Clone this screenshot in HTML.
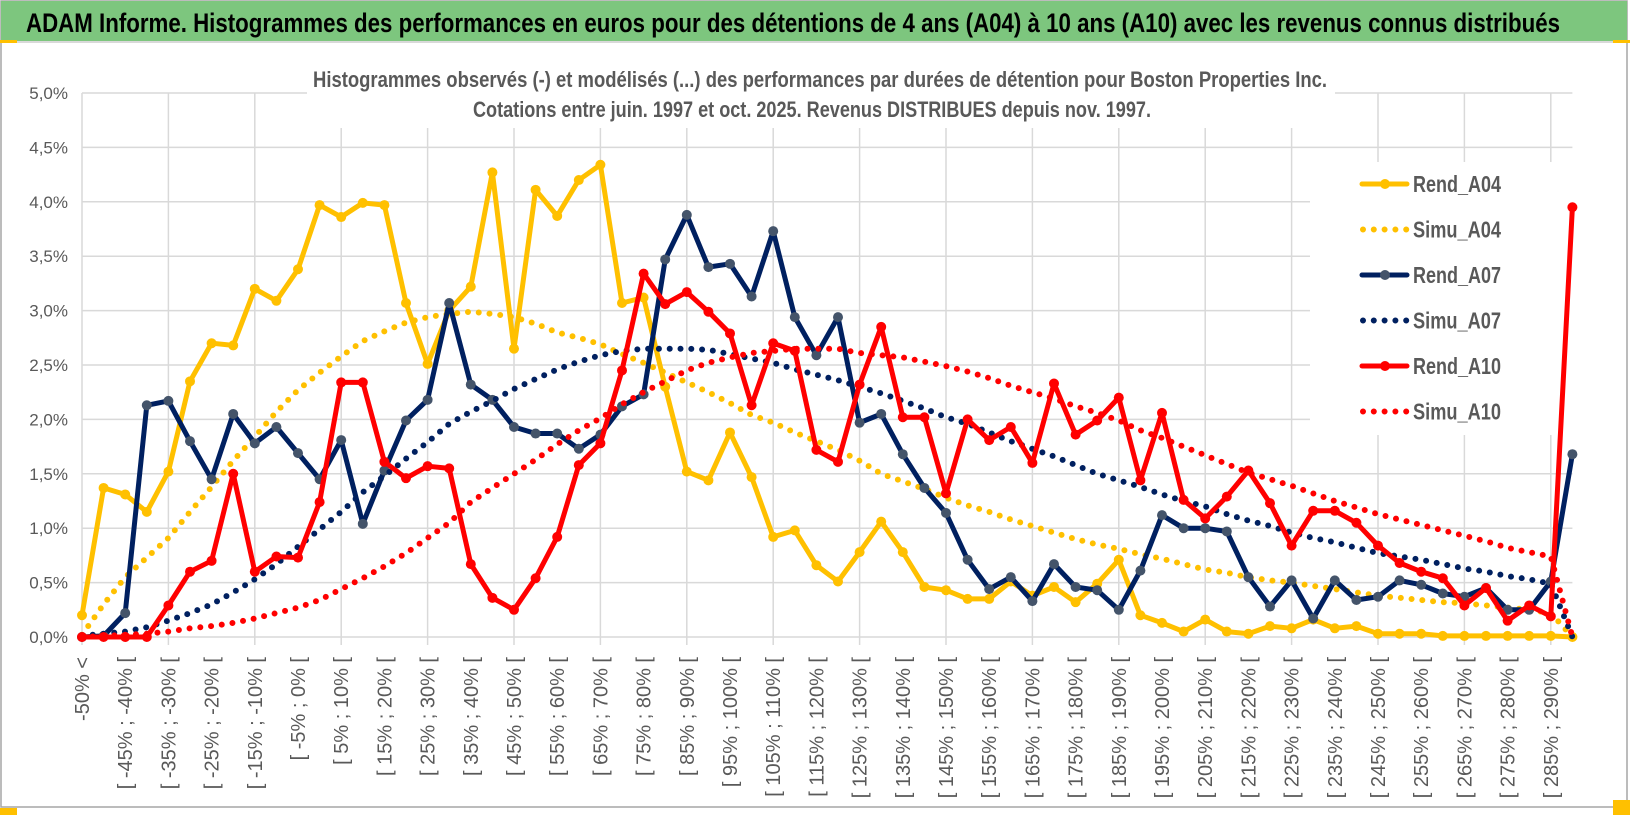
<!DOCTYPE html>
<html><head><meta charset="utf-8">
<style>
html,body{margin:0;padding:0;background:#fff;}
svg{display:block;font-family:"Liberation Sans Narrow","Liberation Sans",sans-serif;}
</style></head>
<body>
<svg id="chart" width="1630" height="815" viewBox="0 0 1630 815" xmlns="http://www.w3.org/2000/svg">
  <rect x="0" y="0" width="1630" height="815" fill="#fff"/>
  <rect x="1" y="1" width="1626" height="806" fill="#fff" stroke="#a6a6a6" stroke-width="1.5"/>
  <rect x="1" y="1" width="1626" height="40" fill="#7dc67e"/>
  <line x1="1" y1="42" x2="1627" y2="42" stroke="#d9d9d9" stroke-width="2"/>
  <rect x="0" y="40" width="17" height="3" fill="#ffc000"/>
  <rect x="1613" y="40" width="17" height="3" fill="#ffc000"/>
  <rect x="0" y="808" width="17" height="7" fill="#ffc000"/>
  <rect x="1613" y="800" width="17" height="15" fill="#ffc000"/>
  <text x="26" y="32" font-size="27" font-weight="bold" fill="#000" textLength="1534" lengthAdjust="spacingAndGlyphs">ADAM Informe. Histogrammes des performances en euros pour des détentions de 4 ans (A04) à 10 ans (A10) avec les revenus connus distribués</text>
  <g id="grid"></g>
  <g id="yaxis"></g>
  <g id="xaxis"></g>
  <rect x="307" y="50" width="1028" height="78" fill="#fff"/>
  <text x="313" y="87" font-size="22" font-weight="bold" fill="#595959" textLength="1014" lengthAdjust="spacingAndGlyphs">Histogrammes observés (-) et modélisés (...) des performances par durées de détention pour Boston Properties Inc.</text>
  <text x="473" y="117" font-size="22" font-weight="bold" fill="#595959" textLength="678" lengthAdjust="spacingAndGlyphs">Cotations entre juin. 1997 et oct. 2025.  Revenus DISTRIBUES depuis nov. 1997.</text>
  <rect x="1310" y="162" width="290" height="273" fill="#fff"/>
  <g id="series"></g>
  <g id="legend"></g>
</svg>
<script>
const categories = ["-50% <","[ -50% ; -45% [","[ -45% ; -40% [","[ -40% ; -35% [","[ -35% ; -30% [","[ -30% ; -25% [","[ -25% ; -20% [","[ -20% ; -15% [","[ -15% ; -10% [","[ -10% ; -5% [",
"[ -5% ; 0% [","[ 0% ; 5% [","[ 5% ; 10% [","[ 10% ; 15% [","[ 15% ; 20% [","[ 20% ; 25% [","[ 25% ; 30% [","[ 30% ; 35% [","[ 35% ; 40% [","[ 40% ; 45% [",
"[ 45% ; 50% [","[ 50% ; 55% [","[ 55% ; 60% [","[ 60% ; 65% [","[ 65% ; 70% [","[ 70% ; 75% [","[ 75% ; 80% [","[ 80% ; 85% [","[ 85% ; 90% [","[ 90% ; 95% [",
"[ 95% ; 100% [","[ 100% ; 105% [","[ 105% ; 110% [","[ 110% ; 115% [","[ 115% ; 120% [","[ 120% ; 125% [","[ 125% ; 130% [","[ 130% ; 135% [","[ 135% ; 140% [","[ 140% ; 145% [",
"[ 145% ; 150% [","[ 150% ; 155% [","[ 155% ; 160% [","[ 160% ; 165% [","[ 165% ; 170% [","[ 170% ; 175% [","[ 175% ; 180% [","[ 180% ; 185% [","[ 185% ; 190% [","[ 190% ; 195% [",
"[ 195% ; 200% [","[ 200% ; 205% [","[ 205% ; 210% [","[ 210% ; 215% [","[ 215% ; 220% [","[ 220% ; 225% [","[ 225% ; 230% [","[ 230% ; 235% [","[ 235% ; 240% [","[ 240% ; 245% [",
"[ 245% ; 250% [","[ 250% ; 255% [","[ 255% ; 260% [","[ 260% ; 265% [","[ 265% ; 270% [","[ 270% ; 275% [","[ 275% ; 280% [","[ 280% ; 285% [","[ 285% ; 290% [","> 290%"];
const yTicks = [0,0.5,1,1.5,2,2.5,3,3.5,4,4.5,5];
const yTickLabels = ["0,0%","0,5%","1,0%","1,5%","2,0%","2,5%","3,0%","3,5%","4,0%","4,5%","5,0%"];
const rendA04 = [0.2,1.37,1.31,1.15,1.52,2.35,2.7,2.68,3.2,3.09,3.38,3.97,3.86,3.99,3.97,3.07,2.51,3.0,3.22,4.27,2.65,4.11,3.87,4.2,4.34,3.07,3.12,2.3,1.52,1.44,1.88,1.47,0.92,0.98,0.66,0.51,0.78,1.06,0.78,0.46,0.43,0.35,0.35,0.51,0.38,0.46,0.32,0.49,0.71,0.2,0.13,0.05,0.16,0.05,0.03,0.1,0.08,0.16,0.08,0.1,0.03,0.03,0.03,0.01,0.01,0.01,0.01,0.01,0.01,0.0];
const simuA04 = [0.02,0.3,0.55,0.73,0.91,1.15,1.38,1.62,1.84,2.07,2.27,2.43,2.58,2.72,2.81,2.89,2.94,2.97,2.99,2.97,2.94,2.88,2.8,2.75,2.69,2.6,2.52,2.43,2.34,2.25,2.15,2.04,1.97,1.88,1.8,1.72,1.62,1.5,1.43,1.36,1.28,1.21,1.15,1.08,1.02,0.96,0.9,0.85,0.81,0.76,0.72,0.67,0.62,0.59,0.55,0.52,0.5,0.47,0.44,0.41,0.38,0.36,0.34,0.32,0.31,0.29,0.27,0.25,0.22,0.0];
const rendA07 = [0,0.01,0.22,2.13,2.17,1.8,1.45,2.05,1.78,1.93,1.69,1.45,1.81,1.04,1.53,1.99,2.18,3.07,2.32,2.18,1.93,1.87,1.87,1.73,1.86,2.12,2.23,3.47,3.88,3.4,3.43,3.13,3.73,2.94,2.59,2.94,1.97,2.05,1.68,1.37,1.14,0.71,0.44,0.55,0.33,0.67,0.46,0.43,0.25,0.61,1.12,1.0,1.0,0.97,0.55,0.28,0.52,0.17,0.52,0.34,0.37,0.52,0.48,0.4,0.37,0.45,0.25,0.25,0.51,1.68];
const simuA07 = [0.01,0.03,0.05,0.09,0.15,0.22,0.3,0.41,0.53,0.67,0.83,0.99,1.15,1.33,1.48,1.64,1.79,1.96,2.07,2.17,2.28,2.37,2.46,2.53,2.59,2.63,2.65,2.65,2.65,2.64,2.6,2.56,2.52,2.46,2.41,2.36,2.3,2.24,2.17,2.1,2.02,1.96,1.88,1.8,1.73,1.66,1.58,1.5,1.44,1.38,1.31,1.25,1.2,1.13,1.07,1.02,0.96,0.91,0.87,0.82,0.77,0.74,0.71,0.67,0.63,0.6,0.56,0.53,0.49,0.0];
const rendA10 = [0,0,0,0,0.29,0.6,0.7,1.5,0.6,0.74,0.73,1.24,2.34,2.34,1.61,1.46,1.57,1.55,0.67,0.36,0.25,0.54,0.92,1.58,1.78,2.45,3.34,3.06,3.17,2.99,2.79,2.13,2.7,2.63,1.72,1.61,2.32,2.85,2.02,2.02,1.32,2.0,1.81,1.93,1.6,2.33,1.86,1.99,2.2,1.44,2.06,1.26,1.09,1.29,1.53,1.23,0.84,1.16,1.16,1.05,0.84,0.68,0.6,0.54,0.29,0.45,0.15,0.29,0.19,3.95];
const simuA10 = [0,0.01,0.02,0.03,0.05,0.08,0.1,0.13,0.17,0.22,0.27,0.34,0.44,0.54,0.65,0.77,0.91,1.05,1.24,1.37,1.5,1.63,1.77,1.9,2.01,2.14,2.25,2.35,2.45,2.52,2.57,2.61,2.63,2.65,2.65,2.65,2.61,2.59,2.57,2.53,2.49,2.44,2.38,2.31,2.25,2.19,2.12,2.06,1.99,1.9,1.83,1.75,1.67,1.59,1.51,1.45,1.39,1.32,1.25,1.19,1.13,1.08,1.03,0.98,0.93,0.88,0.82,0.78,0.74,0.0];

const NS = "http://www.w3.org/2000/svg";
const X0 = 82, XSTEP = 21.6, Y0 = 637, YPX = 108.8;
function xScale(i){ return X0 + i * XSTEP; }
function yScale(v){ return Y0 - v * YPX; }
function mk(tag, attrs, parent){ const e = document.createElementNS(NS, tag); for (const k in attrs) e.setAttribute(k, attrs[k]); parent.appendChild(e); return e; }

const grid = document.getElementById('grid');
const yaxis = document.getElementById('yaxis');
const xaxis = document.getElementById('xaxis');
const xEnd = xScale(categories.length - 1);
yTicks.forEach((t, k) => {
  const ln = mk('line', {x1: X0, x2: xEnd, y1: yScale(t), y2: yScale(t), stroke: '#d9d9d9', 'stroke-width': 1.5}, grid);
  
  
  const tx = mk('text', {x: 68, y: yScale(t) + 6, 'text-anchor': 'end', 'font-size': 17, fill: '#595959', 'font-family': '"Liberation Sans", sans-serif'}, yaxis);
  tx.textContent = yTickLabels[k];
  
  
});
for (let i = 0; i < categories.length; i += 4) {
  const ln = mk('line', {x1: xScale(i), x2: xScale(i), y1: yScale(5), y2: Y0 + 8, stroke: '#d9d9d9', 'stroke-width': 1.5}, grid);
  
  
}
for (let i = 0; i < categories.length - 1; i += 2) {
  const x = xScale(i) + 7;
  const tx = mk('text', {x: x, y: 657, transform: 'rotate(-90 ' + x + ' 657)', 'text-anchor': 'end', 'font-size': 20, fill: '#595959', 'font-family': '"Liberation Sans", sans-serif'}, xaxis);
  tx.textContent = categories[i];
  
  
}

const seriesG = document.getElementById('series');
function pathFor(vals){ return vals.map((v, i) => (i ? 'L' : 'M') + xScale(i).toFixed(1) + ' ' + yScale(v).toFixed(1)).join(' '); }
function drawSolid(vals, color, marker, name){
  const g = mk('g', {}, seriesG);
  
  
  mk('path', {d: pathFor(vals), fill: 'none', stroke: color, 'stroke-width': 5, 'stroke-linejoin': 'round'}, g);
  vals.forEach((v, i) => {
    const c = mk('circle', {cx: xScale(i), cy: yScale(v), r: 5, fill: marker}, g);
    
    
  });
}
function drawDotted(vals, color, name){
  const p = mk('path', {d: pathFor(vals), fill: 'none', stroke: color, 'stroke-width': 6, 'stroke-linecap': 'round', 'stroke-dasharray': '0 10.8'}, seriesG);
  
  
}
drawSolid(rendA04, '#ffc000', '#ffc000', 'rend-a04-line');
drawDotted(simuA04, '#ffc000', 'simu-a04-line');
drawSolid(rendA07, '#002060', '#44546a', 'rend-a07-line');
drawDotted(simuA07, '#002060', 'simu-a07-line');
drawSolid(rendA10, '#ff0000', '#ff0000', 'rend-a10-line');
drawDotted(simuA10, '#ff0000', 'simu-a10-line');

const legend = document.getElementById('legend');
const legendItems = [['Rend_A04', '#ffc000', 'solid'], ['Simu_A04', '#ffc000', 'dot'], ['Rend_A07', '#002060', 'solid'], ['Simu_A07', '#002060', 'dot'], ['Rend_A10', '#ff0000', 'solid'], ['Simu_A10', '#ff0000', 'dot']];
legendItems.forEach((it, k) => {
  const y = 184 + k * 45.5;
  const g = mk('g', {}, legend);
  
  
  if (it[2] === 'solid') {
    mk('line', {x1: 1362, x2: 1407, y1: y, y2: y, stroke: it[1], 'stroke-width': 5, 'stroke-linecap': 'round'}, g);
    mk('circle', {cx: 1385, cy: y, r: 5, fill: it[0] === 'Rend_A07' ? '#44546a' : it[1]}, g);
  } else {
    mk('line', {x1: 1363, x2: 1407, y1: y, y2: y, stroke: it[1], 'stroke-width': 6, 'stroke-linecap': 'round', 'stroke-dasharray': '0 10.8'}, g);
  }
  const tx = mk('text', {x: 1413, y: y + 8, 'font-size': 23, 'font-weight': 'bold', fill: '#595959', textLength: 88, lengthAdjust: 'spacingAndGlyphs'}, g);
  tx.textContent = it[0];
});
</script>
</body></html>
